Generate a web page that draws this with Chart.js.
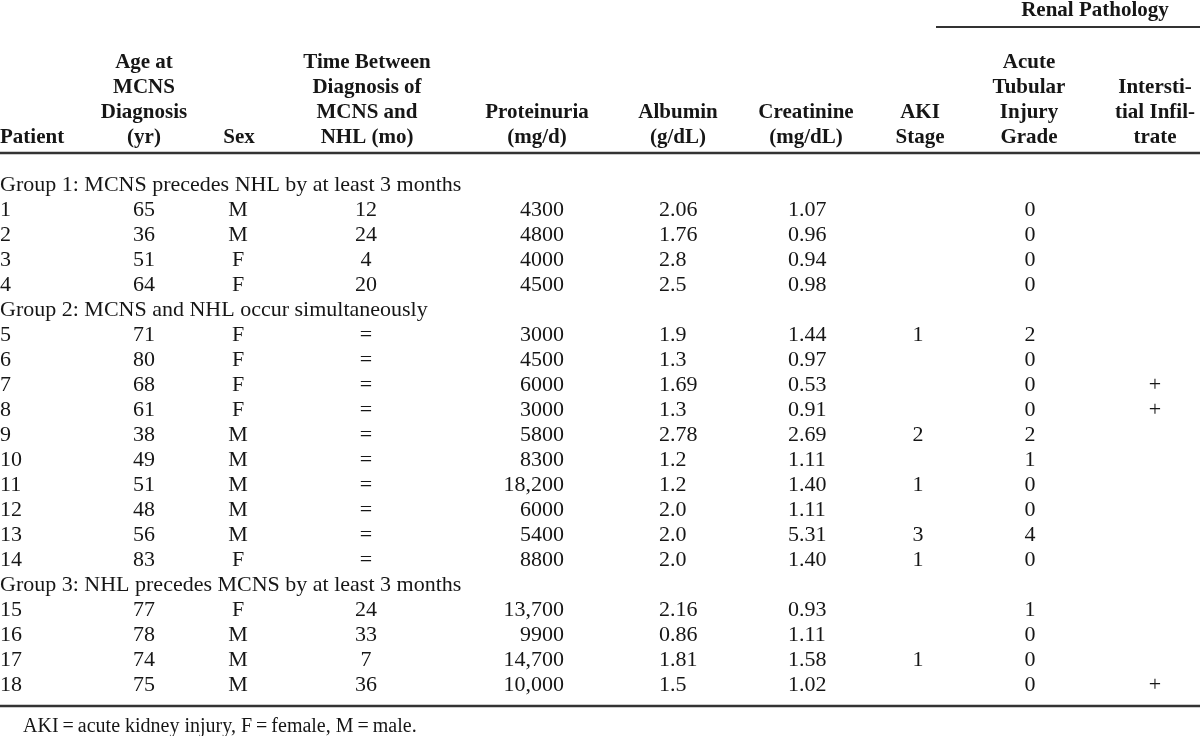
<!DOCTYPE html>
<html>
<head>
<meta charset="utf-8">
<script src="https://cdn.jsdelivr.net/npm/chart.js@4.4.1/dist/chart.umd.min.js"></script>
<style>
  html, body { margin: 0; padding: 0; background: #fff; }
  #wrap { width: 1200px; height: 736px; }
</style>
</head>
<body>
<div id="wrap"><canvas id="tableChart" width="1200" height="736"></canvas></div>
<script>
// table values, one array per column
const patients = ['1','2','3','4','5','6','7','8','9','10','11','12','13','14','15','16','17','18'];
const ages = [65, 36, 51, 64, 71, 80, 68, 61, 38, 49, 51, 48, 56, 83, 77, 78, 74, 75];
const sexes = ['M','M','F','F','F','F','F','F','M','M','M','M','M','F','F','M','M','M'];
const monthsBetween = ['12','24','4','20','=','=','=','=','=','=','=','=','=','=','24','33','7','36'];
const proteinuria = [4300, 4800, 4000, 4500, 3000, 4500, 6000, 3000, 5800, 8300, 18200, 6000, 5400, 8800, 13700, 9900, 14700, 10000];
const albumin = ['2.06','1.76','2.8','2.5','1.9','1.3','1.69','1.3','2.78','1.2','1.2','2.0','2.0','2.0','2.16','0.86','1.81','1.5'];
const creatinine = ['1.07','0.96','0.94','0.98','1.44','0.97','0.53','0.91','2.69','1.11','1.40','1.11','5.31','1.40','0.93','1.11','1.58','1.02'];
const akiStage = [null, null, null, null, 1, null, null, null, 2, null, 1, null, 3, 1, null, null, 1, null];
const atiGrade = [0, 0, 0, 0, 2, 0, 0, 0, 2, 1, 0, 0, 4, 0, 1, 0, 0, 0];
const infiltrate = ['', '', '', '', '', '', '+', '+', '', '', '', '', '', '', '', '', '', '+'];

const groupTitles = [
  'Group 1: MCNS precedes NHL by at least 3 months',
  'Group 2: MCNS and NHL occur simultaneously',
  'Group 3: NHL precedes MCNS by at least 3 months'
];
const groupStarts = [0, 4, 14];

const headers = [
  ['Patient'],
  ['Age at', 'MCNS', 'Diagnosis', '(yr)'],
  ['Sex'],
  ['Time Between', 'Diagnosis of', 'MCNS and', 'NHL (mo)'],
  ['Proteinuria', '(mg/d)'],
  ['Albumin', '(g/dL)'],
  ['Creatinine', '(mg/dL)'],
  ['AKI', 'Stage'],
  ['Acute', 'Tubular', 'Injury', 'Grade'],
  ['Intersti-', 'tial Infil-', 'trate']
];
const spanTitle = 'Renal Pathology';
const footnote = 'AKI\u2009=\u2009acute kidney injury, F\u2009=\u2009female, M\u2009=\u2009male.';

// layout (x scale runs 0..1200, y scale 0..736 top-down)
const headerX = [0, 144, 239, 367, 537, 678, 806, 920, 1029, 1155];
const headerAlign = ['left','center','center','center','center','center','center','center','center','center'];
const cellX = [0, 144, 238, 366, 564, 659, 788, 918, 1030, 1155];
const cellAlign = ['left','center','center','center','right','left','left','center','center','center'];
const headerBottom = 138, headerStep = 25;
const bodyTop = 185, rowStep = 25;
const SERIF = '"Liberation Serif", "Times New Roman", serif';
const INK = '#161616';

function fmtProt(v) {
  return v >= 10000 ? v.toLocaleString('en-US') : String(v);
}

// work out which slot every row lands in (group titles take a slot each)
const rowSlot = [];
let slot = 0;
patients.forEach((p, i) => {
  if (groupStarts.includes(i)) slot++;
  rowSlot.push(slot);
  slot++;
});
const groupSlot = groupStarts.map(s => rowSlot[s] - 1);
const slotY = s => bodyTop + s * rowStep;

const columns = [
  patients, ages.map(String), sexes, monthsBetween, proteinuria.map(fmtProt),
  albumin, creatinine, akiStage.map(v => v == null ? '' : String(v)),
  atiGrade.map(String), infiltrate
];

const datasets = columns.map((col, c) => ({
  label: headers[c].join(' '),
  data: col.map((t, r) => ({ x: cellX[c], y: slotY(rowSlot[r]), text: t })),
  textAlign: cellAlign[c],
  font: '22px',
  pointRadius: 0
}));

datasets.push({
  label: 'groups',
  data: groupTitles.map((t, g) => ({ x: 0, y: slotY(groupSlot[g]), text: t })),
  textAlign: 'left', font: '22px', pointRadius: 0
});

const headerData = [];
headers.forEach((lines, c) => {
  lines.forEach((t, k) => {
    headerData.push({ x: headerX[c], y: headerBottom - (lines.length - 1 - k) * headerStep, text: t, align: headerAlign[c] });
  });
});
headerData.push({ x: 1095, y: 11, text: spanTitle, align: 'center' });
datasets.push({ label: 'headers', data: headerData, font: 'bold 21px', pointRadius: 0 });

datasets.push({
  label: 'foot',
  data: [{ x: 23, y: 727, text: footnote }],
  textAlign: 'left', font: '20px', pointRadius: 0
});

// rules of the table: [x1, x2, y, width]
const rules = [
  [0, 1200, 153, 2.5],
  [0, 1200, 706, 2.5],
  [936, 1200, 27, 2]
];

const tableText = {
  id: 'tableText',
  afterDatasetsDraw(chart) {
    const ctx = chart.ctx;
    const xs = chart.scales.x, ys = chart.scales.y;
    ctx.save();
    ctx.strokeStyle = '#333';
    rules.forEach(r => {
      ctx.lineWidth = r[3];
      ctx.beginPath();
      ctx.moveTo(xs.getPixelForValue(r[0]), ys.getPixelForValue(r[2]));
      ctx.lineTo(xs.getPixelForValue(r[1]), ys.getPixelForValue(r[2]));
      ctx.stroke();
    });
    ctx.fillStyle = INK;
    ctx.textBaseline = 'middle';
    chart.data.datasets.forEach((ds, i) => {
      const meta = chart.getDatasetMeta(i);
      ctx.font = ds.font + ' ' + SERIF;
      meta.data.forEach((pt, j) => {
        const raw = ds.data[j];
        if (!raw.text) return;
        ctx.textAlign = raw.align || ds.textAlign;
        ctx.fillText(raw.text, pt.x, pt.y);
      });
    });
    ctx.restore();
  }
};

new Chart(document.getElementById('tableChart'), {
  type: 'scatter',
  data: { datasets: datasets },
  options: {
    responsive: false,
    animation: false,
    layout: { padding: 0 },
    plugins: { legend: { display: false }, tooltip: { enabled: false } },
    scales: {
      x: { type: 'linear', min: 0, max: 1200, display: false },
      y: { type: 'linear', min: 0, max: 736, reverse: true, display: false }
    }
  },
  plugins: [tableText]
});
</script>
</body>
</html>
